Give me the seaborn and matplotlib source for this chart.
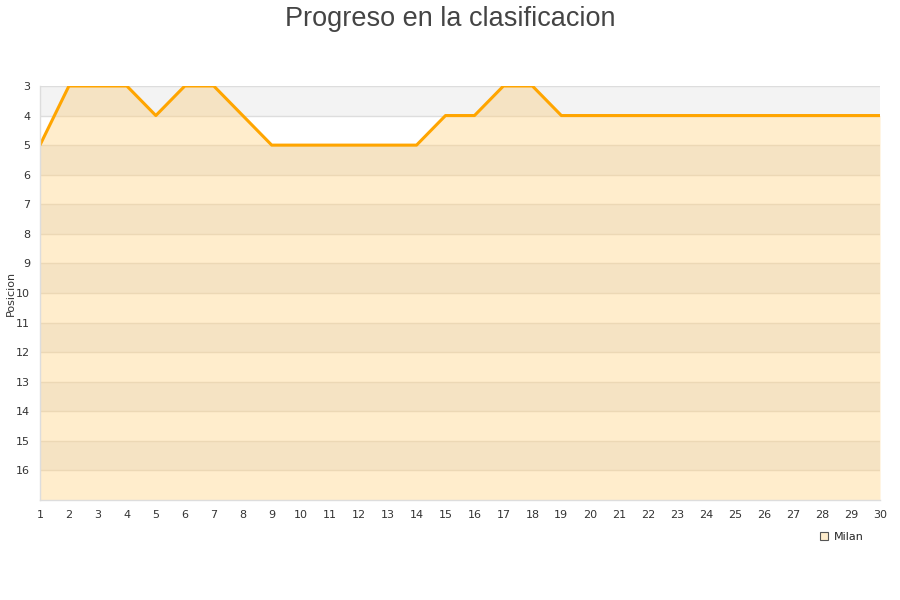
import numpy as np
import pandas as pd
import seaborn as sns
import matplotlib.pyplot as plt
from matplotlib.lines import Line2D

# Datos: posicion de Milan por jornada
jornadas = list(range(1, 31))
posiciones = [5, 3, 3, 3, 4, 3, 3, 4, 5, 5, 5, 5, 5, 5, 4, 4, 3, 3,
              4, 4, 4, 4, 4, 4, 4, 4, 4, 4, 4, 4]
equipo = 'Milan'
y_ticks = list(range(3, 17))

df = pd.DataFrame({'jornada': jornadas, 'posicion': posiciones})

sns.set_theme(style='white')
plt.rcParams['font.family'] = ['DejaVu Sans']

fig = plt.figure(figsize=(9, 6), dpi=100)
ax = fig.add_axes([0.0444, 0.1667, 0.9334, 0.69])

y_min, y_max = 3, 17

# bandas de fondo (gris / blanco)
for lo in range(y_min, y_max):
    if (lo - y_min) % 2 == 0:
        ax.axhspan(lo, lo + 1, color='#f3f3f3', lw=0, zorder=0)
for t in range(y_min, y_max):
    ax.axhline(t, color='#dddddd', lw=1, zorder=1)

# area bajo la linea
poly = ax.fill_between(df['jornada'], df['posicion'], y_max,
                       color='#ffedcc', lw=0, zorder=2)
clip = poly.get_paths()[0]
for lo in range(y_min, y_max):
    if (lo - y_min) % 2 == 0:
        band = ax.axhspan(lo, lo + 1, color='#f5e3c3', lw=0, zorder=2.1)
        band.set_clip_path(clip, ax.transData)
for t in range(y_min + 1, y_max):
    gl = ax.axhline(t, color='#ecd8b5', lw=1, zorder=2.2)
    gl.set_clip_path(clip, ax.transData)

sns.lineplot(data=df, x='jornada', y='posicion', ax=ax, color='#ffa500',
             lw=2.2, zorder=3, legend=False)

ax.set_xlim(1, 30)
ax.set_ylim(y_max, y_min)
ax.set_xticks(jornadas)
ax.set_yticks(y_ticks)
ax.tick_params(axis='both', length=0, labelsize=8, colors='#333333')
ax.tick_params(axis='x', pad=7)
ax.tick_params(axis='y', pad=7)
for s in ['top', 'right']:
    ax.spines[s].set_visible(False)
for s in ['left', 'bottom']:
    ax.spines[s].set_color('#dddddd')
    ax.spines[s].set_linewidth(1)
    ax.spines[s].set_zorder(4)

ax.set_xlabel('')
ax.set_ylabel('Posicion', fontsize=8, color='#333333')
ax.yaxis.set_label_coords(-0.029, 0.5)

fig.suptitle('Progreso en la clasificacion', y=0.99, fontsize=19.5,
             color='#444444', family=['Liberation Sans', 'DejaVu Sans'])

handle = Line2D([], [], marker='s', ls='', markersize=6,
                markerfacecolor='#ffedcc', markeredgecolor='#555555',
                markeredgewidth=0.8)
fig.legend([handle], [equipo], loc='center', bbox_to_anchor=(0.935, 0.105),
           frameon=False, fontsize=8, handletextpad=0.4, handlelength=1)

fig.savefig('out.png', dpi=100)
